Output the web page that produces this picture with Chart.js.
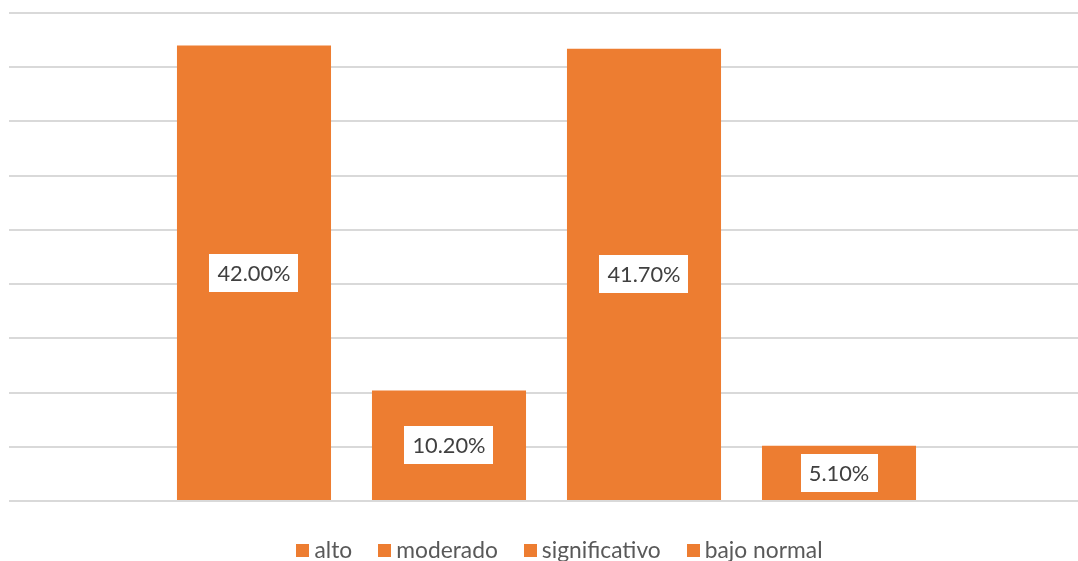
<!DOCTYPE html>
<html><head><meta charset="utf-8">
<script src="https://cdn.jsdelivr.net/npm/chart.js@4.4.0/dist/chart.umd.min.js"></script>
<style>
html,body{margin:0;padding:0;background:#fff;overflow:hidden}
#wrap{width:1078px;height:561px;overflow:hidden;position:relative;background:#fff}
canvas{display:block}
</style></head>
<body><div id="wrap"><canvas id="c" width="1086" height="561"></canvas></div>
<script>
// ---- data ----
const seriesNames = ['alto', 'moderado', 'significativo', 'bajo normal'];
const seriesValues = [42.00, 10.20, 41.70, 5.10];
const valueLabels = ['42.00%', '10.20%', '41.70%', '5.10%'];
const categories = [''];
const yMin = 0, yMax = 45, yStep = 5;

const ORANGE = '#ED7D31';
const FONT = 'Lato';

const datasets = seriesNames.map((name, i) => ({
  label: name,
  data: [seriesValues[i]],
  backgroundColor: ORANGE,
  borderWidth: 0,
  categoryPercentage: 0.7256,
  barPercentage: 0.79
}));

const valueLabelPlugin = {
  id: 'valueLabels',
  afterDatasetsDraw(chart) {
    const ctx = chart.ctx;
    ctx.save();
    ctx.font = '21.8px ' + FONT;
    ctx.textAlign = 'center';
    ctx.textBaseline = 'middle';
    chart.data.datasets.forEach((ds, i) => {
      const meta = chart.getDatasetMeta(i);
      const el = meta.data[0];
      const txt = valueLabels[i];
      const w = ctx.measureText(txt).width;
      const cx = el.x;
      const cy = (el.y + el.base) / 2;
      const bw = w + 16, bh = 38;
      ctx.fillStyle = '#ffffff';
      ctx.fillRect(Math.round(cx - bw / 2), Math.round(cy - bh / 2), Math.round(bw), bh);
      ctx.fillStyle = '#404040';
      ctx.fillText(txt, cx, cy + 1);
    });
    ctx.restore();
  }
};

const legendPlugin = {
  id: 'customLegend',
  afterDraw(chart) {
    const ctx = chart.ctx;
    ctx.save();
    ctx.font = '22.8px ' + FONT;
    ctx.textBaseline = 'middle';
    const box = 13, gap = 5, itemGap = 26;
    const items = chart.data.datasets.map(ds => ({
      label: ds.label, color: ds.backgroundColor, w: ctx.measureText(ds.label).width
    }));
    const total = items.reduce((s, it) => s + box + gap + it.w, 0) + itemGap * (items.length - 1);
    let x = 559.5 - total / 2;
    const cy = 550.5;
    items.forEach(it => {
      ctx.fillStyle = it.color;
      ctx.fillRect(Math.round(x), Math.round(cy - box / 2), box, box);
      ctx.fillStyle = '#595959';
      ctx.fillText(it.label, x + box + gap, cy);
      x += box + gap + it.w + itemGap;
    });
    ctx.restore();
  }
};

new Chart(document.getElementById('c'), {
  type: 'bar',
  data: { labels: categories, datasets },
  options: {
    responsive: false,
    animation: false,
    devicePixelRatio: 1,
    layout: { padding: { left: 9, right: 2, top: 13, bottom: 60 } },
    plugins: { legend: { display: false }, tooltip: { enabled: false } },
    scales: {
      x: { display: false },
      y: {
        min: yMin, max: yMax,
        ticks: { display: false, stepSize: yStep },
        border: { display: false },
        grid: { color: '#d9d9d9', lineWidth: 2, drawTicks: false, tickLength: 0 },
        afterFit(scale) { scale.width = 0; }
      }
    }
  },
  plugins: [valueLabelPlugin, legendPlugin]
});
</script>
</body></html>
